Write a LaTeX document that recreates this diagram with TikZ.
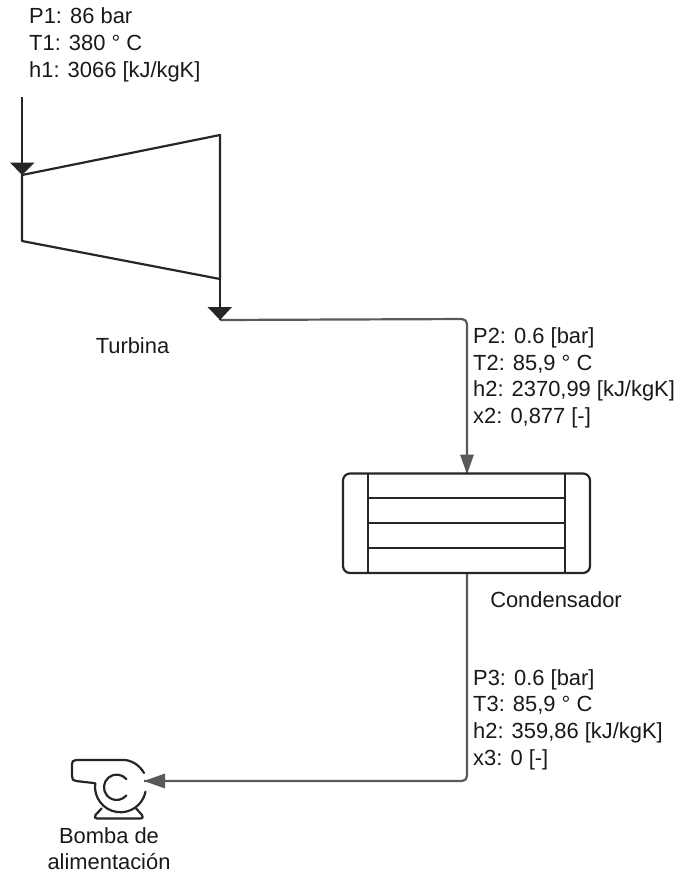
\documentclass[tikz,border=0pt]{standalone}
\usepackage{fontspec}
\setmainfont{Liberation Sans}
\begin{document}
\begin{tikzpicture}[x=1pt,y=-1pt,
  dark/.style={draw=black!85,line width=2.2pt,line join=round},
  flow/.style={draw=black!65,line width=2.2pt,rounded corners=5pt},
  headD/.style={fill=black!85,draw=none},
  headG/.style={fill=black!65,draw=none},
  lbl/.style={anchor=west,align=left,inner sep=0pt,text=black!90,font=\fontsize{21.9}{26.7}\selectfont},
  ctr/.style={anchor=center,align=center,inner sep=0pt,text=black!90,font=\fontsize{21.9}{26}\selectfont}]
\useasboundingbox (0,0) rectangle (678,873);
% named anchors
\coordinate (inTop) at (22,97);
\coordinate (inTip) at (22,175);
\coordinate (outStart) at (220,279);
\coordinate (outTip) at (220,320);
\coordinate (condTop) at (467,473);
\coordinate (condBot) at (467,573);
\coordinate (pumpIn) at (144,781);
% labels
\node[lbl] (l1) at (29,45) {P1: 86 bar\\T1: 380 ° C\\h1: 3066 [kJ/kgK]};
\node[ctr] (tur) at (132.5,346) {Turbina};
\node[lbl] (l2) at (473,377.7) {P2: 0.6 [bar]\\T2: 85,9 ° C\\h2: 2370,99 [kJ/kgK]\\x2: 0,877 [-]};
\node[ctr] (con) at (556,600) {Condensador};
\node[lbl] (l3) at (473,719.5) {P3: 0.6 [bar]\\T3: 85,9 ° C\\h2: 359,86 [kJ/kgK]\\x3: 0 [-]};
\node[ctr] (bom) at (109,849) {Bomba de\\alimentación};
% flows
\draw[flow] (outTip) -- (467,319) -- (condTop);
\draw[flow] (condBot) -- (467,781) -- (pumpIn);
\fill[headG] (condTop) ++(0,1) -- ++(-7,-19.5) -- ++(14,0) -- cycle;
\fill[headG] (pumpIn) -- ++(21,-7.5) -- ++(0,15) -- cycle;
% turbine
\draw[dark] (22,175) -- (220,135) -- (220,279) -- (22,241) -- cycle;
\draw[dark] (inTop) -- (inTip);
\draw[dark] (outStart) -- (outTip);
\fill[headD] (inTip) -- (10,162.5) -- (34.5,162.5) -- cycle;
\fill[headD] (outTip) -- (207.5,307) -- (232,307) -- cycle;
% condenser
\draw[dark,rounded corners=7pt] (343,473.5) rectangle (590,573);
\draw[dark] (368,473.5) -- (368,573);
\draw[dark] (565,473.5) -- (565,573);
\draw[dark] (368,498) -- (565,498);
\draw[dark] (368,523) -- (565,523);
\draw[dark] (368,548) -- (565,548);
% pump
\draw[dark,line cap=round] (144,773) .. controls (139,764) and (130,760) .. (124,760)
  -- (76,760) .. controls (73,760) and (72,762) .. (72,764)
  -- (72,776) .. controls (72,779) and (73,781) .. (76,781)
  -- (95.25,783.2) arc[start angle=172,end angle=349,radius=25.5pt];
\draw[dark,line cap=round] (126.4,779.1) arc[start angle=40,end angle=320,radius=12.7pt];
\draw[dark,line cap=round] (101.7,808.3) -- (95.5,815) .. controls (94,817) and (95,818.5) .. (97,818.5)
  -- (140,818.5) .. controls (143,818.5) and (143.5,816.5) .. (142,815) -- (136,808.3);
\end{tikzpicture}
\end{document}
